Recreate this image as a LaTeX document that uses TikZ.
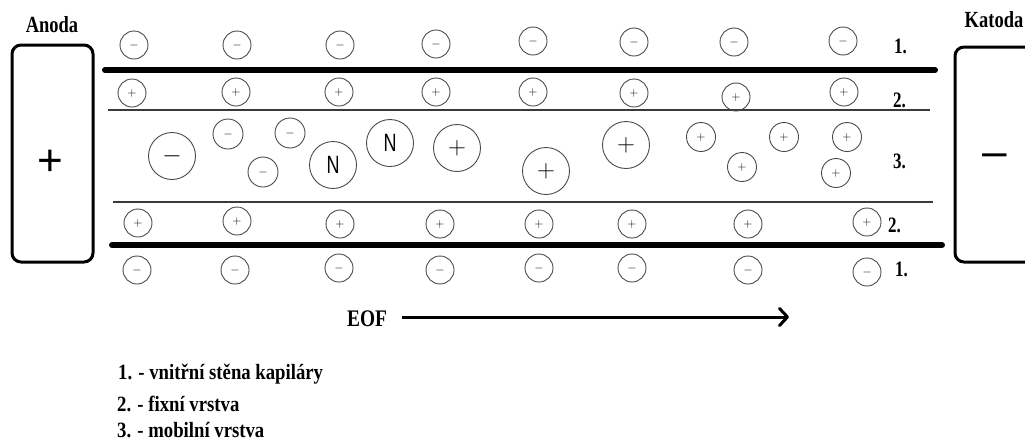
\documentclass[tikz,border=0pt]{standalone}
\usepackage{fontspec}
\setmainfont{Liberation Serif}
\newfontfamily\sansf{Liberation Sans}
\usetikzlibrary{arrows.meta}
\definecolor{ring}{HTML}{4A4A4A}
\definecolor{thinl}{HTML}{3A3A3A}
\tikzset{
  ion/.style={circle, draw=ring, line width=0.9pt, inner sep=0pt, minimum size=28pt},
  bigion/.style={circle, draw=ring, line width=0.9pt, inner sep=0pt, minimum size=47pt},
  smsign/.style={font=\fontsize{13}{13}\selectfont},
  bigsign/.style={font=\fontsize{28}{28}\selectfont},
  nsign/.style={font=\sansf\fontsize{25}{25}\selectfont, xscale=0.72},
  lbl/.style={font=\bfseries\fontsize{20}{20}\selectfont, xscale=0.85, yscale=1.1, anchor=base west, inner sep=0pt},
  title/.style={font=\bfseries\fontsize{21}{21}\selectfont, xscale=0.88, yscale=1.1, anchor=base, inner sep=0pt},
  legend/.style={font=\bfseries\fontsize{19.5}{19.5}\selectfont, xscale=0.96, yscale=1.12, anchor=base west, inner sep=0pt},
  electrode/.style={draw=black, line width=3pt, rounded corners=9pt},
  wall/.style={line width=6pt, line cap=round},
  layer/.style={draw=thinl, line width=1.3pt},
}
\begin{document}
\begin{tikzpicture}[x=1pt,y=-1pt]
\useasboundingbox (0,0) rectangle (1025,445);
\clip (0,0) rectangle (1025,445);
% electrodes
\draw[electrode] (12,45) rectangle (93,262);
\node[font=\sansf\fontsize{44}{44}\selectfont, inner sep=0pt] (plus) at (50,163) {+};
\draw[electrode] (955,47) rectangle (1070,262);
\node[font=\sansf\fontsize{44}{44}\selectfont, inner sep=0pt] (minus) at (995,160) {–};
\node[title] (anoda) at (52,32) {Anoda};
\node[title] (katoda) at (994,27) {Katoda};
% walls and layers
\draw[wall] (105,70) -- (935,70);
\draw[wall] (112,245) -- (942,245);
\draw[layer] (108,110) -- (930,110);
\draw[layer] (113,202) -- (933,202);
% top wall negative charges
\foreach \i/\x/\y in {1/134/45,2/237/45,3/340/45,4/436/44,5/533/41,6/634/42,7/734/42,8/843/41}
  \node[ion, smsign] (tm\i) at (\x,\y) {$-$};
% top fixed layer
\foreach \i/\x/\y in {1/132/93,2/236/92,3/339/92,4/436/92,5/533/92,6/634/93,7/736/97,8/844/92}
  \node[ion, smsign] (tp\i) at (\x,\y) {$+$};
% bottom fixed layer
\foreach \i/\x/\y in {1/138/223,2/237/221,3/340/224,4/440/224,5/539/224,6/632/224,7/748/224,8/867/222}
  \node[ion, smsign] (bp\i) at (\x,\y) {$+$};
% bottom wall negative charges
\foreach \i/\x/\y in {1/137/270,2/235/270,3/339/268,4/440/270,5/539/268,6/632/268,7/748/270,8/867/272}
  \node[ion, smsign] (bm\i) at (\x,\y) {$-$};
% mobile layer
\node[bigion, font=\fontsize{26}{26}\selectfont] (mA) at (172,156) {$-$};
\node[ion, smsign, minimum size=30pt] (mB) at (228,134) {$-$};
\node[ion, smsign, minimum size=30pt] (mC) at (290,133) {$-$};
\node[ion, smsign, minimum size=30pt] (mD) at (263,172) {$-$};
\node[bigion] (nA) at (333,165) {};
\node[nsign] at (nA) {N};
\node[bigion] (nB) at (390,143) {};
\node[nsign] at (nB) {N};
\node[bigion, bigsign] (pA) at (457,148) {$+$};
\node[bigion, bigsign] (pB) at (546,171) {$+$};
\node[bigion, bigsign] (pC) at (626,145) {$+$};
\foreach \i/\x/\y in {1/701/137,2/742/167,3/784/137,4/847/137,5/836/173}
  \node[ion, smsign, minimum size=29pt] (sp\i) at (\x,\y) {$+$};
% layer labels
\node[lbl] (l1t) at (894,53) {1.};
\node[lbl] (l2t) at (893,107) {2.};
\node[lbl] (l3) at (893,168) {3.};
\node[lbl] (l2b) at (888,232) {2.};
\node[lbl] (l1b) at (895,276) {1.};
% EOF arrow
\node[font=\bfseries\fontsize{22}{22}\selectfont, xscale=0.88, yscale=1.08, anchor=base, inner sep=0pt] (eof) at (367,326) {EOF};
\coordinate (arrS) at (402,317);
\coordinate (arrE) at (789,317);
\draw[line width=3pt, -{Straight Barb[length=8pt, width=17pt, line cap=round, line join=round]}] (arrS) -- (arrE);
% legend
\node[legend] (leg1) at (118,379) {1. - vnitřní stěna kapiláry};
\node[legend] (leg2) at (117,411) {2. - fixní vrstva};
\node[legend] (leg3) at (117,437) {3. - mobilní vrstva};
\end{tikzpicture}
\end{document}
